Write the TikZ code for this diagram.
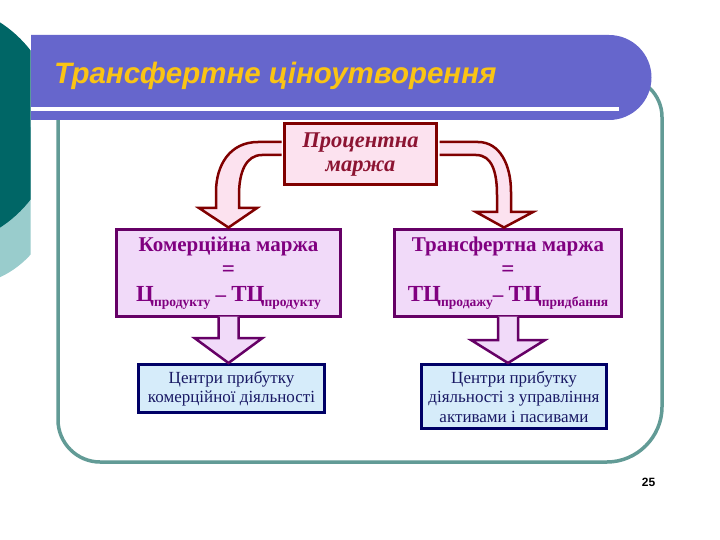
\documentclass[tikz,border=0pt]{standalone}
\usepackage{fontspec}
\setmainfont{Liberation Serif}
\newfontfamily\titlefont{Liberation Sans}
\usetikzlibrary{calc}
\definecolor{darkteal}{RGB}{0,102,102}
\definecolor{lightteal}{RGB}{153,204,204}
\definecolor{barblue}{RGB}{102,102,204}
\definecolor{framec}{RGB}{98,155,150}
\definecolor{titleyellow}{RGB}{250,196,20}
\definecolor{pinkfill}{RGB}{252,226,239}
\definecolor{darkred}{RGB}{128,0,0}
\definecolor{redtext}{RGB}{140,20,50}
\definecolor{lavfill}{RGB}{241,218,249}
\definecolor{purpleline}{RGB}{102,0,102}
\definecolor{purpletext}{RGB}{128,0,128}
\definecolor{bluefill}{RGB}{214,236,250}
\definecolor{navyline}{RGB}{0,0,102}
\definecolor{navytext}{RGB}{25,25,100}
\newcommand\sbt[1]{\raisebox{-5pt}{\fontsize{13.5}{14}\selectfont #1}}
\newcommand\bigletters[1]{{\fontsize{23}{25}\selectfont #1}}
\begin{document}
\begin{tikzpicture}[x=1pt,y=-1pt,
  pmbox/.style={draw=darkred, fill=pinkfill, line width=3pt, inner sep=0pt, align=center, text=redtext, font=\fontsize{22.5}{24}\selectfont\bfseries\itshape},
  marginbox/.style={draw=purpleline, fill=lavfill, line width=3pt, inner sep=0pt, align=center, text=purpletext, font=\fontsize{21}{25}\selectfont\bfseries},
  centrebox/.style={draw=navyline, fill=bluefill, line width=3pt, inner sep=0pt, align=center, text=navytext, font=\fontsize{17}{19.5}\selectfont},
  bentarrow/.style={draw=darkred, fill=pinkfill, line width=2.5pt, line join=miter},
  downarrow/.style={draw=purpleline, fill=lavfill, line width=2.5pt, line join=miter},
]
\useasboundingbox (0,0) rectangle (720,540);
\fill[white] (0,0) rectangle (720,540);
% decoration on the left
\begin{scope}
  \clip (0,0) rectangle (30.5,540);
  \fill[lightteal] (-40,191) circle[radius=95];
  \fill[darkteal] (-66,125) circle[radius=122];
\end{scope}
% content frame
\draw[framec, line width=3.5pt] (58,119) -- (58,420) .. controls (58,443) and (77,462) .. (100,462) -- (607,462) .. controls (637,462) and (662,437) .. (662,407) -- (662,117) .. controls (662,95) and (644,77) .. (622,77) -- (560,77);
% title bar
\fill[barblue] (31,35) -- (609,35) .. controls (632.5,35) and (651.5,54) .. (651.5,77.5) .. controls (651.5,101) and (632.5,120) .. (609,120) -- (31,120) -- cycle;
\fill[white] (31,107) rectangle (619,111);
\node[anchor=base west, text=titleyellow, inner sep=0pt, font=\titlefont\fontsize{29.5}{31}\selectfont\bfseries\itshape] (title) at (54,84) {Трансфертне ціноутворення};
% boxes
\node[pmbox, minimum width=152pt, minimum height=61pt] (pm) at (360.5,154.5) {Процентна\\маржа};
\node[marginbox, minimum width=224pt, minimum height=87pt] (cm) at (228.5,273) {Комерційна маржа\\\bigletters{=}\\\bigletters{Ц}\sbt{продукту} – \bigletters{ТЦ}\sbt{продукту}};
\node[marginbox, minimum width=227pt, minimum height=87pt] (tm) at (508,273) {Трансфертна маржа\\\bigletters{=}\\\bigletters{ТЦ}\sbt{продажу}– \bigletters{ТЦ}\sbt{придбання}};
\node[centrebox, minimum width=186pt, minimum height=48pt] (lc) at (231.5,388.5) {Центри прибутку\\комерційної діяльності};
\node[centrebox, minimum width=185pt, minimum height=64pt] (rc) at (514,396.5) {Центри прибутку\\діяльності з управління\\активами і пасивами};
% bent arrows
\draw[bentarrow] ($(pm.west)+(-1.5,-12.5)$) -- (258,142) .. controls (230,142) and (216,165) .. (216,192) -- (216,208) -- (199,208) -- ($(cm.north)+(0,-0.5)$) -- (257,208) -- (239,208) -- (239,195) .. controls (239,172) and (246,155) .. (262,155) -- ($(pm.west)+(-1.5,0.5)$);
\draw[bentarrow] ($(pm.east)+(1.5,-12.5)$) -- (478,142) .. controls (500,142) and (511,165) .. (511,192) -- (511,212) -- (533,212) -- ($(tm.north)+(-4,-0.5)$) -- (476,212) -- (497,212) -- (497,195) .. controls (497,172) and (492,155) .. (476,155) -- ($(pm.east)+(1.5,0.5)$);
% down arrows
\draw[downarrow] ($(cm.south)+(-10,-1.5)$) -- ($(cm.south)+(-10,20)$) -- ($(cm.south)+(-34,20)$) -- (cm.south |- lc.north) -- ($(cm.south)+(34,20)$) -- ($(cm.south)+(10,20)$) -- ($(cm.south)+(10,-1.5)$);
\draw[downarrow] ($(tm.south)+(-10,-1.5)$) -- ($(tm.south)+(-10,22)$) -- ($(tm.south)+(-37,22)$) -- (tm.south |- rc.north) -- ($(tm.south)+(37,22)$) -- ($(tm.south)+(10,22)$) -- ($(tm.south)+(10,-1.5)$);
% page number
\node[inner sep=0pt, font=\titlefont\bfseries\fontsize{12}{14}\selectfont] (pg) at (648.5,482.5) {25};
\end{tikzpicture}
\end{document}
